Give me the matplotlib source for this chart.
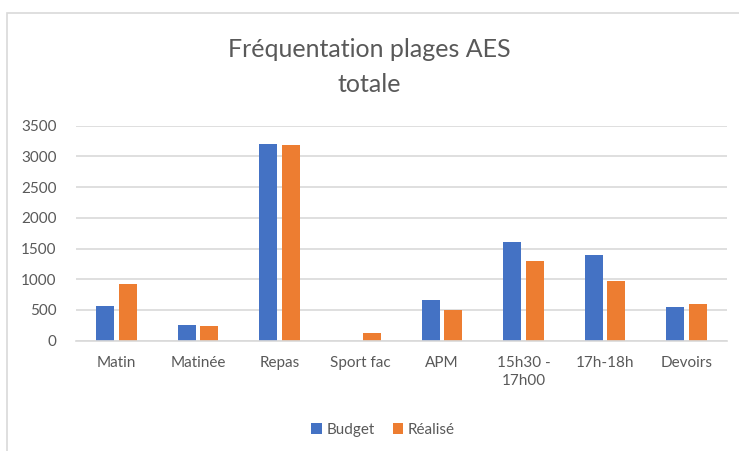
import numpy as np
import matplotlib
matplotlib.use("Agg")
import matplotlib.pyplot as plt
from matplotlib.patches import Rectangle

plt.rcParams['font.family'] = ['Lato', 'DejaVu Sans']

# data
categories = ["Matin", "Matinée", "Repas", "Sport fac", "APM", "15h30 -\n17h00", "17h-18h", "Devoirs"]
budget = [560, 250, 3195, 0, 670, 1600, 1390, 555]
realise = [930, 235, 3180, 120, 495, 1300, 975, 605]
yticks = [0, 500, 1000, 1500, 2000, 2500, 3000, 3500]

blue = "#4472C4"
orange = "#ED7D31"
grey_txt = "#595959"
grid_col = "#D9D9D9"

fig = plt.figure(figsize=(7.39, 4.51), dpi=100)
ax = fig.add_axes([0.1028, 0.2446, 0.881, 0.4768])

# chart border
fig.patches.append(Rectangle((7 / 739, -0.1), 1.0, 1 - 13 / 451 + 0.1,
                             transform=fig.transFigure, fill=False,
                             edgecolor=grid_col, linewidth=1.2))

x = np.arange(len(categories))
w = 0.22
ax.bar(x - 0.138, budget, w, color=blue, label="Budget")
ax.bar(x + 0.138, realise, w, color=orange, label="Réalisé")

ax.set_xlim(-0.5, len(categories) - 0.5)
ax.set_ylim(0, 3500)
ax.set_yticks(yticks)
ax.set_xticks(x)
ax.set_xticklabels(categories, fontsize=11, color=grey_txt, linespacing=1.4)
ax.tick_params(axis='y', labelsize=11, labelcolor=grey_txt, length=0, pad=14)
ax.tick_params(axis='x', length=0, pad=11)

ax.yaxis.grid(True, color=grid_col, linewidth=1.2)
ax.set_axisbelow(True)
for s in ['top', 'right', 'left']:
    ax.spines[s].set_visible(False)
ax.spines['bottom'].set_color(grid_col)
ax.spines['bottom'].set_linewidth(1.2)

fig.text(0.5, 1 - 67 / 451, "Fréquentation plages AES\ntotale", ha='center', va='center',
         fontsize=18, color=grey_txt, linespacing=1.6)

leg = fig.legend(loc='center', bbox_to_anchor=(383 / 739, 1 - 430 / 451), ncol=2,
                 frameon=False, fontsize=11, handlelength=0.7, handleheight=0.7,
                 handletextpad=0.3, columnspacing=1.2)
for t in leg.get_texts():
    t.set_color(grey_txt)

fig.savefig("out.png", dpi=100)
